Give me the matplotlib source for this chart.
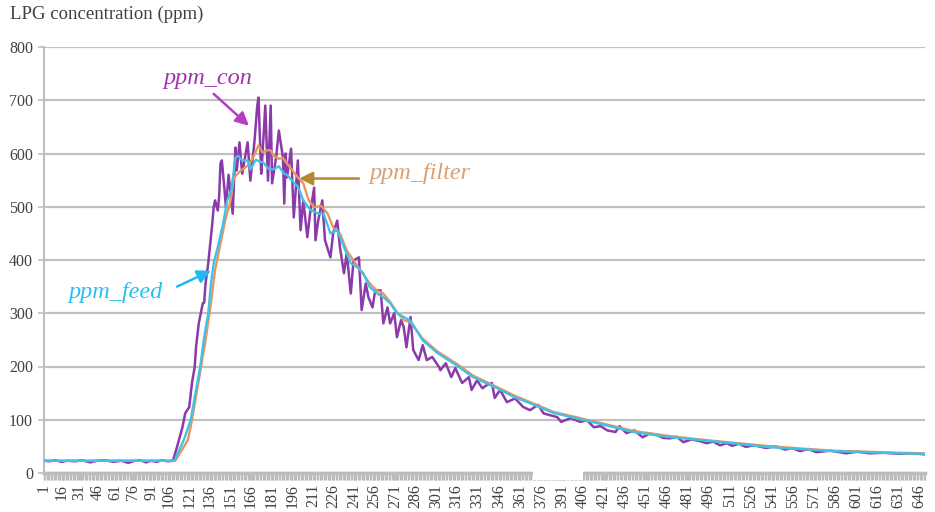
import matplotlib
matplotlib.use("Agg")
import matplotlib.pyplot as plt
from matplotlib.patches import Rectangle
import numpy as np

# sample index (x category) and LPG concentration readings (ppm)
con_idx = [1, 5, 9, 14, 18, 24, 29, 35, 40, 46, 52, 58, 63, 68, 72, 76, 80, 84, 88, 92, 96,
           99, 103, 105, 108, 110, 112, 113, 115, 118, 119, 120, 122, 124, 125, 126, 127, 129,
           130, 131, 132, 134, 135, 137, 140, 142, 143, 145, 147, 150, 151, 153, 156, 158, 159,
           161, 162, 164, 166, 168, 169, 172, 174, 177, 178, 179, 180, 183, 185, 188, 190, 192,
           195, 197, 200, 201, 203, 206, 208, 212, 214, 217, 219, 222, 224, 227, 229, 233, 235,
           238, 240, 243, 245, 249, 251, 254, 256, 259, 261, 264, 266, 268, 271, 273, 277, 280,
           283, 287, 292, 293, 297, 301, 304, 309, 314, 316, 320, 324, 327, 331, 333, 337, 342,
           348, 354, 359, 365, 369, 373, 379, 382, 389, 396, 401, 406, 411, 416, 422, 425, 430,
           436, 442, 447, 452, 457, 462, 467, 472, 478, 484, 489, 494, 499, 504, 508, 513, 518,
           524, 533, 540, 547, 552, 558, 564, 570, 580, 592, 600, 609, 620, 631, 640, 650]
con_ppm = [23, 22, 24, 21, 23, 22, 24, 20, 23, 24, 21, 23, 19, 23, 24, 20, 23, 21, 24, 22, 23,
           49, 86, 112, 124, 169, 199, 236, 281, 319, 320, 356, 394, 443, 469, 499, 512, 493,
           518, 581, 587, 531, 499, 560, 487, 611, 568, 621, 562, 606, 621, 549, 621, 687, 705,
           562, 600, 690, 549, 690, 544, 593, 643, 593, 506, 600, 555, 609, 480, 587, 456, 512,
           443, 487, 536, 437, 474, 512, 437, 405, 450, 474, 424, 375, 413, 337, 399, 405, 306,
           356, 330, 311, 343, 343, 281, 311, 281, 300, 255, 287, 274, 236, 293, 231, 212, 240,
           212, 218, 199, 193, 206, 180, 197, 169, 180, 156, 174, 159, 165, 169, 141, 156, 133,
           140, 124, 118, 128, 112, 109, 105, 96, 103, 96, 99, 86, 88, 80, 77, 88, 75,
           80, 67, 74, 72, 66, 65, 68, 58, 63, 60, 56, 59, 52, 56, 51, 55, 49,
           52, 47, 50, 44, 47, 41, 45, 39, 42, 37, 40, 37, 38, 36, 37, 35]

filter_idx = [1, 97, 98, 107, 110, 115, 120, 124, 127, 131, 135, 138, 141, 146, 151, 155, 159,
              162, 165, 168, 170, 174, 177, 180, 184, 188, 192, 196, 200, 205, 210, 214, 219,
              224, 229, 234, 241, 246, 251, 256, 261, 266, 271, 280, 291, 305, 317, 335, 347,
              361, 376, 391, 411, 435, 460, 484, 508, 533, 558, 582, 607, 631, 650]
filter_ppm = [23, 23, 24, 62, 99, 174, 249, 319, 381, 431, 480, 506, 555, 568, 577, 592, 615,
              602, 606, 606, 596, 590, 592, 581, 568, 555, 544, 512, 499, 502, 487, 461, 450,
              418, 399, 381, 356, 343, 337, 321, 302, 287, 283, 252, 228, 205, 183, 161, 146,
              131, 115, 106, 94, 79, 70, 63, 57, 51, 46, 42, 40, 38, 37]

feed_idx = [1, 97, 104, 109, 113, 116, 119, 122, 124, 126, 129, 133, 136, 139, 142, 144, 147,
            151, 153, 157, 163, 166, 170, 174, 178, 180, 184, 188, 192, 197, 203, 207, 212,
            217, 222, 227, 232, 236, 241, 247, 251, 256, 261, 266, 271, 280, 291, 305, 317,
            335, 347, 361, 376, 391, 411, 435, 460, 484, 508, 533, 558, 582, 607, 631, 650]
feed_ppm = [23, 23, 62, 99, 156, 199, 255, 300, 356, 394, 424, 469, 512, 531, 592, 596, 587,
            587, 570, 588, 582, 572, 570, 576, 562, 560, 548, 538, 512, 495, 487, 487, 450,
            456, 424, 394, 386, 376, 349, 336, 330, 319, 300, 293, 286, 249, 225, 202, 180,
            159, 143, 129, 113, 104, 92, 77, 68, 62, 56, 49, 45, 41, 39, 37, 36]

tick_labels = list(range(1, 647, 15))
y_ticks = list(range(0, 801, 100))

# the source chart's category labels are not evenly spread: a few labels
# and the spot on the axis where each one sits
label_anchor = [1, 106, 316, 646]
label_spot = [1, 93, 305, 646]

plt.rcParams['font.family'] = ['Liberation Serif', 'DejaVu Serif']

fig = plt.figure(figsize=(9.35, 5.12), dpi=100)
ax = fig.add_axes([44 / 935, 1 - 473 / 512, (925 - 44) / 935, (473 - 47) / 512])

ax.plot(con_idx, con_ppm, color='#8B3AAA', lw=1.8, zorder=3)
ax.plot(filter_idx, filter_ppm, color='#E6965F', lw=1.7, zorder=4)
ax.plot(feed_idx, feed_ppm, color='#3FC2E6', lw=1.7, zorder=5)

ax.set_xlim(1, 650)
ax.set_ylim(0, 800)
ax.set_yticks(y_ticks)
ax.yaxis.grid(True, color='#c0c0c0', lw=1.6)
ax.set_axisbelow(True)

tick_spots = np.interp(tick_labels, label_anchor, label_spot)
ax.set_xticks(tick_spots)
ax.set_xticklabels([str(t) for t in tick_labels], rotation=90, fontsize=11.5, color='#404040')
ax.set_xticks(range(1, 651), minor=True)
ax.tick_params(axis='x', which='both', length=5, width=1.0, color='#bcbcbc', pad=3)
ax.tick_params(axis='y', length=4, width=1.2, color='#bfbfbf', labelsize=11.5,
               labelcolor='#404040', pad=4)

for side in ['top', 'right']:
    ax.spines[side].set_visible(False)
ax.spines['left'].set_color('#bfbfbf')
ax.spines['left'].set_linewidth(1.5)
ax.spines['bottom'].set_color('#bcbcbc')
ax.spines['bottom'].set_linewidth(2.5)

# white gap in the axis band of the source
ax.add_patch(Rectangle((361, -0.016), 37, 0.02, transform=ax.get_xaxis_transform(),
                       facecolor='white', edgecolor='none', clip_on=False, zorder=10))

fig.text(10 / 935, 1 - 14 / 512, 'LPG concentration (ppm)', fontsize=13.5, color='#404040',
         va='center', ha='left')

# series callouts
ax.text(122, 741, 'ppm_con', fontsize=17.5, style='italic', color='#A233B0',
        ha='center', va='center')
ax.annotate('', xy=(152, 652), xytext=(126, 712),
            arrowprops=dict(arrowstyle='-|>', color='#B83CC0', lw=1.8, mutation_scale=20,
                            shrinkA=0, shrinkB=0))

ax.text(278, 563, 'ppm_filter', fontsize=17.5, style='italic', color='#D9A070',
        ha='center', va='center')
ax.annotate('', xy=(189, 553), xytext=(233, 553),
            arrowprops=dict(arrowstyle='-|>', color='#B8862F', lw=1.8, mutation_scale=20,
                            shrinkA=0, shrinkB=0))

ax.text(54, 339, 'ppm_feed', fontsize=17.5, style='italic', color='#27C0F0',
        ha='center', va='center')
ax.annotate('', xy=(124, 380), xytext=(99, 350),
            arrowprops=dict(arrowstyle='-|>', color='#22B8F0', lw=1.8, mutation_scale=20,
                            shrinkA=0, shrinkB=0))

fig.savefig('out.png', dpi=100)
